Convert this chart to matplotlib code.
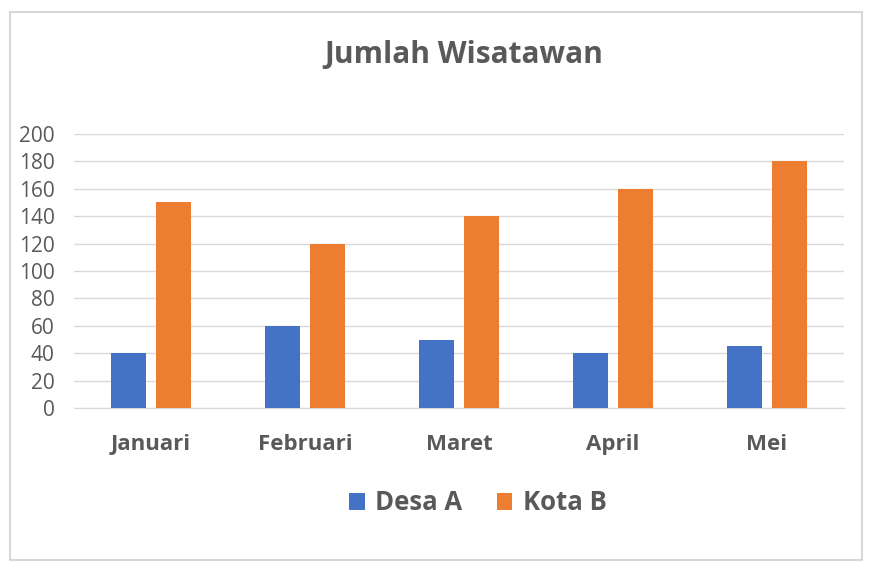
import matplotlib
matplotlib.use("Agg")
import matplotlib.pyplot as plt
from matplotlib.patches import Rectangle
import numpy as np

categories = ["Januari", "Februari", "Maret", "April", "Mei"]
desa_a = [40, 60, 50, 40, 45]
kota_b = [150, 120, 140, 160, 180]
series_names = ["Desa A", "Kota B"]
yticks = [0, 20, 40, 60, 80, 100, 120, 140, 160, 180, 200]

plt.rcParams['font.family'] = ['Open Sans', 'DejaVu Sans']
TXT = "#595959"
W, H = 877, 569
fig = plt.figure(figsize=(W/100, H/100), dpi=100)
fig.patch.set_facecolor("white")
fig.patches.append(Rectangle((10/W, 1 - 560/H), 852/W, 548/H, transform=fig.transFigure,
                             fill=False, edgecolor="#d0d0d0", linewidth=1.2))

ax = fig.add_axes([74/W, 1 - 408/H, 770/W, 274/H])
x = np.arange(len(categories))
bw = 0.227
ax.bar(x - 0.143, desa_a, bw, color="#4472C4", label=series_names[0], zorder=3)
ax.bar(x + 0.143, kota_b, bw, color="#ED7D31", label=series_names[1], zorder=3)
ax.set_xlim(-0.5, len(categories) - 0.5)
ax.set_ylim(0, 200)
ax.set_yticks(yticks)
ax.set_yticklabels([str(v) for v in yticks], fontsize=15, color=TXT)
ax.yaxis.grid(True, color="#d9d9d9", linewidth=1, zorder=0)
ax.set_xticks(x)
ax.set_xticklabels(categories, fontsize=16, fontweight="bold", color=TXT)
ax.tick_params(axis="both", length=0)
ax.tick_params(axis="x", pad=18.5)
ax.tick_params(axis="y", pad=14)
for s in ax.spines.values():
    s.set_visible(False)
ax.spines["bottom"].set_visible(True)
ax.spines["bottom"].set_color("#d9d9d9")

fig.text(464/W, 1 - 55/H, "Jumlah Wisatawan", ha="center", va="center",
         fontsize=21.5, fontweight="bold", color=TXT)

leg = fig.legend(loc="center", bbox_to_anchor=(478/W, 1 - 503/H), ncol=2, frameon=False,
                 prop={"size": 18.5, "weight": "bold"}, handlelength=0.6, handleheight=0.6,
                 handletextpad=0.4, columnspacing=1.35)
for t in leg.get_texts():
    t.set_color(TXT)

fig.savefig("out.png", dpi=100, facecolor="white")
